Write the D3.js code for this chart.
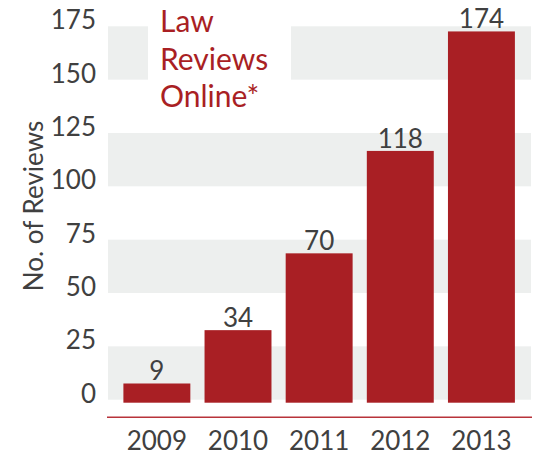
<!DOCTYPE html>
<html>
<head>
<meta charset="utf-8">
<script src="https://cdn.jsdelivr.net/npm/d3@7"></script>
<style>
  body { margin: 0; background: #fff; }
  text { font-family: Lato, "Open Sans", sans-serif; font-weight: 400; }
</style>
</head>
<body>
<div id="chart"></div>
<script>
var years = ["2009", "2010", "2011", "2012", "2013"],
  reviews = [9, 34, 70, 118, 174],
  yTicks = [0, 25, 50, 75, 100, 125, 150, 175],
  bandStarts = [0, 50, 100, 150],
  titleLines = ["Law", "Reviews", "Online*"];

var WIDTH = 534,
  HEIGHT = 455,
  BAR_COLOR = "#a91f24",
  BAND_COLOR = "#edefee",
  TEXT_COLOR = "#404040";

const svg = d3.select("#chart").append("svg")
  .attr("width", WIDTH)
  .attr("height", HEIGHT)

const x = d3.scaleBand()
  .domain(years)
  .range([116.3, 522])
  .paddingInner(0.175)
  .paddingOuter(0.0875)

const y = d3.scaleLinear()
  .domain([0, 175])
  .range([402.7, 29.3])

// grey stripes behind the bars
svg.append("g").selectAll("rect")
  .data(bandStarts)
  .enter().append("rect")
  .attr("x", 108)
  .attr("width", 423)
  .attr("y", function (d) { return y(d + 25) - 3; })
  .attr("height", function (d) { return y(d) - y(d + 25); })
  .style("fill", BAND_COLOR)

// white box under the title
svg.append("rect")
  .attr("x", 148)
  .attr("y", 0)
  .attr("width", 143)
  .attr("height", 125)
  .style("fill", "#fff")

svg.append("g").selectAll("text")
  .data(yTicks)
  .enter().append("text")
  .attr("x", 96)
  .attr("y", function (d) { return y(d); })
  .attr("text-anchor", "end")
  .style("font-size", "26px")
  .style("fill", TEXT_COLOR)
  .text(function (d) { return d; })

svg.append("g").selectAll("rect")
  .data(reviews)
  .enter().append("rect")
  .attr("x", function (d, i) { return x(years[i]); })
  .attr("width", x.bandwidth())
  .attr("y", function (d) { return y(d); })
  .attr("height", function (d) { return y(0) - y(d); })
  .style("fill", BAR_COLOR)

svg.append("g").selectAll("text")
  .data(reviews)
  .enter().append("text")
  .attr("x", function (d, i) { return x(years[i]) + x.bandwidth() / 2; })
  .attr("y", function (d) { return y(d) - 3; })
  .attr("text-anchor", "middle")
  .style("font-size", "26px")
  .style("fill", TEXT_COLOR)
  .text(function (d) { return d; })

svg.append("line")
  .attr("x1", 107)
  .attr("x2", 532)
  .attr("y1", 417.3)
  .attr("y2", 417.3)
  .style("stroke", "#b8333a")
  .style("stroke-width", 1.5)

svg.append("g").selectAll("text")
  .data(years)
  .enter().append("text")
  .attr("x", function (d) { return x(d) + x.bandwidth() / 2; })
  .attr("y", 450)
  .attr("text-anchor", "middle")
  .style("font-size", "26px")
  .style("fill", TEXT_COLOR)
  .text(function (d) { return d; })

svg.append("text")
  .attr("transform", "translate(43,206) rotate(-90)")
  .attr("text-anchor", "middle")
  .style("font-size", "26px")
  .style("fill", TEXT_COLOR)
  .text("No. of Reviews")

svg.append("g").selectAll("text")
  .data(titleLines)
  .enter().append("text")
  .attr("x", 160)
  .attr("y", function (d, i) { return 32.3 + i * 37.2; })
  .style("font-size", "30px")
  .style("fill", BAR_COLOR)
  .text(function (d) { return d; })
</script>
</body>
</html>
